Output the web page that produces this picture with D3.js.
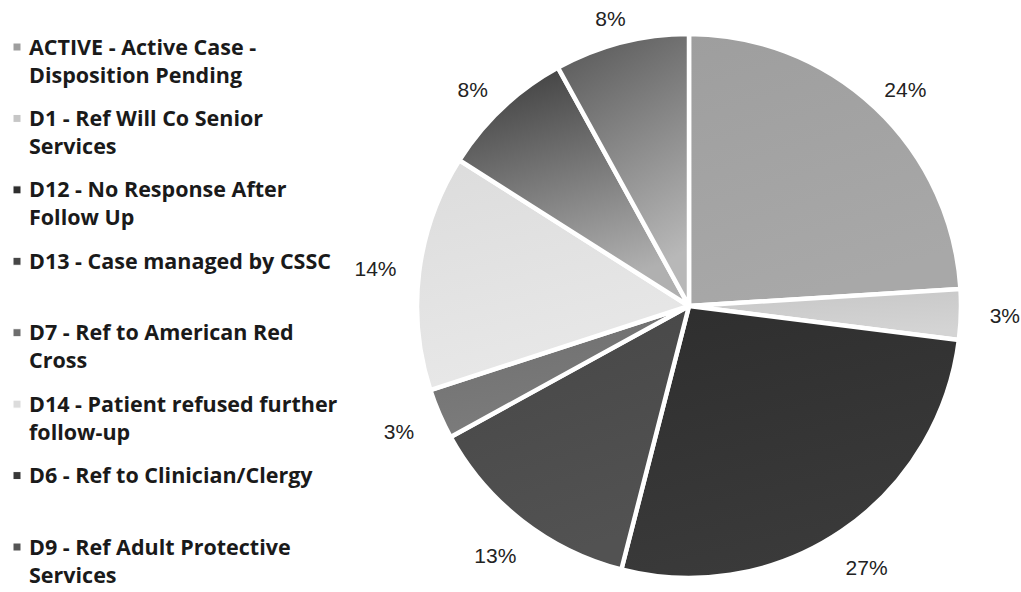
<!DOCTYPE html>
<html>
<head>
<meta charset="utf-8">
<script src="https://cdn.jsdelivr.net/npm/d3@7"></script>
<style>
  body { margin: 0; background: #fff; }
  svg { display: block; }
</style>
</head>
<body>
<div id="chart"></div>
<script>
  var categories = ["ACTIVE", "D1", "D12", "D13", "D7", "D14", "D6", "D9"];
  var legendLines = [
    ["ACTIVE - Active Case -", "Disposition Pending"],
    ["D1 - Ref Will Co Senior", "Services"],
    ["D12 - No Response After", "Follow Up"],
    ["D13 - Case managed by CSSC"],
    ["D7 - Ref to American Red", "Cross"],
    ["D14 - Patient refused further", "follow-up"],
    ["D6 - Ref to Clinician/Clergy"],
    ["D9 - Ref Adult Protective", "Services"]
  ];
  var percents = [24, 3, 27, 13, 3, 14, 8, 8];
  // grey shades: [top, bottom]
  var shades = [
    ["#9e9e9e", "#a8a8a8"],
    ["#c6c6c6", "#d4d4d4"],
    ["#2e2e2e", "#3a3a3a"],
    ["#464646", "#525252"],
    ["#6e6e6e", "#7c7c7c"],
    ["#dcdcdc", "#e8e8e8"],
    ["#383838", "#b0b0b0"],
    ["#555555", "#b8b8b8"]
  ];

  var width = 1021,
      height = 592,
      cx = 689,
      cy = 306,
      radius = 272,
      labelRadius = 316;

  var svg = d3.select("#chart")
    .append("svg")
    .attr("width", width)
    .attr("height", height);

  var defs = svg.append("defs");
  categories.forEach(function(c, i) {
    var g = defs.append("linearGradient")
      .attr("id", "grad" + i)
      .attr("x1", 0).attr("y1", 0).attr("x2", 0.3).attr("y2", 1);
    g.append("stop").attr("offset", "0%").attr("stop-color", shades[i][0]);
    g.append("stop").attr("offset", "100%").attr("stop-color", shades[i][1]);
  });

  var data = categories.map(function(c, i) { return {cat: c, value: percents[i], i: i}; });

  var pie = d3.pie().value(d => d.value).sort(null);
  var arc = d3.arc().innerRadius(0).outerRadius(radius);
  var labelArc = d3.arc().innerRadius(labelRadius).outerRadius(labelRadius);

  var g = svg.append("g").attr("transform", `translate(${cx},${cy})`);

  var arcs = pie(data);

  g.selectAll("path.slice")
    .data(arcs)
    .enter().append("path")
    .attr("class", "slice")
    .attr("d", arc)
    .attr("fill", d => `url(#grad${d.data.i})`)
    .attr("stroke", "#fff")
    .attr("stroke-width", 4.5)
    .attr("stroke-linejoin", "round");

  // labels sit a bit closer above the pie (page top is tight)
  function labelPos(d) {
    var p = labelArc.centroid(d);
    if (p[1] < 0) p[1] = p[1] * 0.94;
    return p;
  }

  g.selectAll("text.pct")
    .data(arcs)
    .enter().append("text")
    .attr("class", "pct")
    .attr("transform", d => `translate(${labelPos(d)})`)
    .attr("text-anchor", "middle")
    .attr("dominant-baseline", "central")
    .style("font-family", "'Liberation Sans', Arial, sans-serif")
    .style("font-size", "21px")
    .style("fill", "#222")
    .text(d => d.data.value + "%");

  // legend
  var legendY = d3.scalePoint().domain(categories).range([47, 547]);

  var legend = svg.selectAll("g.legend")
    .data(data)
    .enter().append("g")
    .attr("class", "legend")
    .attr("transform", d => `translate(0,${legendY(d.cat)})`);

  legend.append("rect")
    .attr("x", 13).attr("y", -4)
    .attr("width", 8).attr("height", 8)
    .attr("fill", d => shades[d.i][0])
    .attr("stroke", "#fff").attr("stroke-width", 1);

  legend.append("text")
    .attr("x", 29)
    .attr("y", 0)
    .style("font-family", "'Open Sans', sans-serif")
    .style("font-weight", "700")
    .style("font-size", "21.5px")
    .style("fill", "#1a1a1a")
    .selectAll("tspan")
    .data(d => legendLines[d.i])
    .enter().append("tspan")
    .attr("x", 29)
    .attr("dy", (d, j) => j === 0 ? "0.35em" : "28px")
    .text(d => d);
</script>
</body>
</html>
